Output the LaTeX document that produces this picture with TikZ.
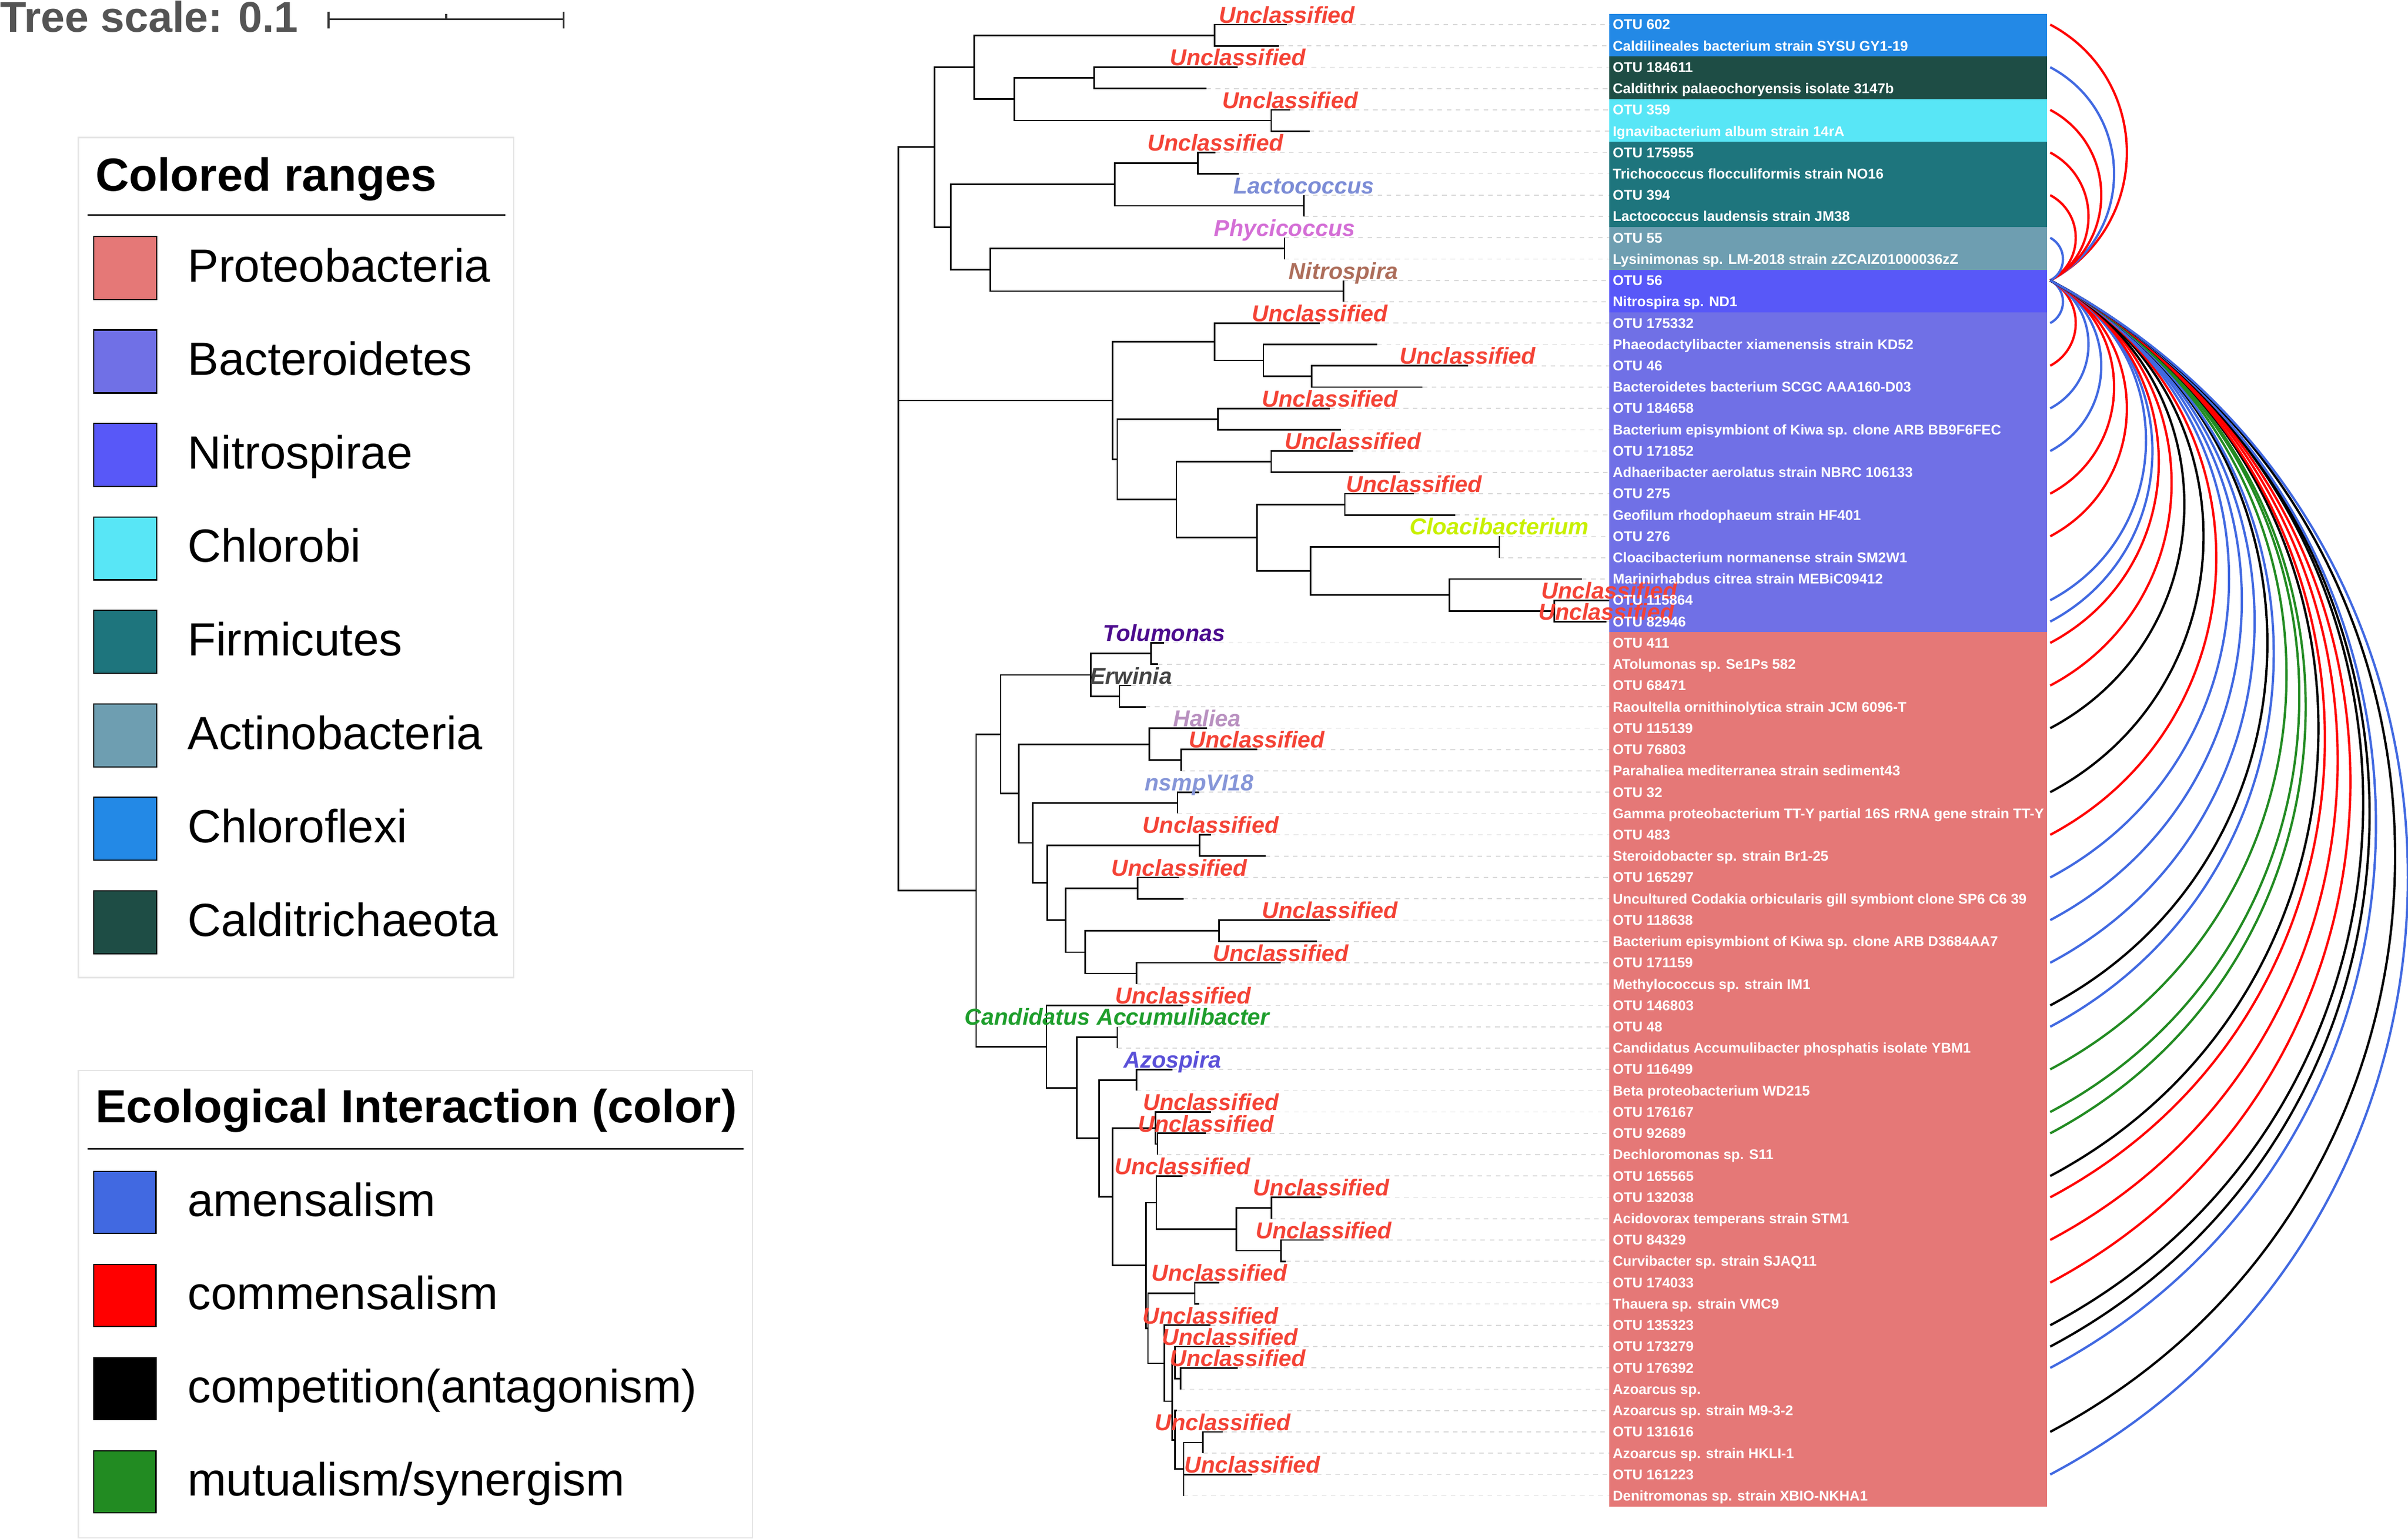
\documentclass[tikz,border=0pt]{standalone}
\usepackage{fontspec}
\setmainfont{Liberation Sans}
\usetikzlibrary{calc}
\usepackage{xcolor}

% colored ranges
\definecolor{prot}{HTML}{E57877}
\definecolor{bact}{HTML}{7070E6}
\definecolor{nitr}{HTML}{5858F8}
\definecolor{chlb}{HTML}{58E6F6}
\definecolor{firm}{HTML}{1E757D}
\definecolor{actn}{HTML}{6E9EB1}
\definecolor{chlf}{HTML}{2389E6}
\definecolor{cald}{HTML}{1E4D45}
% interactions
\definecolor{amen}{HTML}{4169E1}
\definecolor{comm}{HTML}{FF0000}
\definecolor{comp}{HTML}{000000}
\definecolor{mutu}{HTML}{228B22}
% genus labels
\definecolor{unc}{HTML}{F44336}
\definecolor{lacto}{HTML}{7B8CD6}
\definecolor{phyci}{HTML}{D46FD6}
\definecolor{nitro}{HTML}{AD6E5B}
\definecolor{cloac}{HTML}{C8F000}
\definecolor{tolum}{HTML}{4C0A8E}
\definecolor{erwin}{HTML}{444444}
\definecolor{halie}{HTML}{B991C0}
\definecolor{nsmp}{HTML}{8696D8}
\definecolor{candi}{HTML}{1E9E2C}
\definecolor{azosp}{HTML}{5A50D8}

\begin{document}
\begin{tikzpicture}[x=1pt,y=-1pt,
    branch/.style={line width=1pt},
    leader/.style={draw=black!15, line width=0.6pt, dash pattern=on 3pt off 3pt},
    link/.style={line width=1.5pt, looseness=1.16},
    tlab/.style={font=\fontsize{15}{18}\selectfont\bfseries\itshape, anchor=base, inner sep=0pt, yshift=1pt},
    otu/.style={font=\fontsize{9.2}{11}\selectfont\bfseries, text=white, anchor=base west, inner sep=0pt},
    legsq/.style={draw=black, line width=0.8pt},
    legtxt/.style={font=\fontsize{30.3}{36}\selectfont, anchor=base west, inner sep=0pt},
    legtitle/.style={font=\fontsize{30.3}{36}\selectfont\bfseries, anchor=base west, inner sep=0pt}]
      \useasboundingbox (0,0) rectangle (1568,1002.1);

      % Colored ranges
      \foreach \c/\a/\b in {chlf/1/2, cald/3/4, chlb/5/6, firm/7/10, actn/11/12, nitr/13/14, bact/15/29, prot/30/70}
        \fill[\c] (1048,{16+(\a-1.5)*13.884}) rectangle (1333,{16+(\b-0.5)*13.884});

      % Leaf tips
      \foreach \k/\x in {1/838, 2/833, 3/806, 4/785.6, 5/840, 6/852.8, 7/791.4, 8/806.7, 9/849, 10/849,
          11/836.5, 12/836.5, 13/874.8, 14/874.8, 15/859.4, 16/896.8, 17/955.8, 18/926.3, 19/866, 20/873,
          21/881, 22/911.8, 23/920.9, 24/947.7, 25/976.3, 26/976.3, 27/1030, 28/1048, 29/1046, 30/758,
          31/754, 32/736.5, 33/746, 34/786, 35/818.5, 36/769, 37/781, 38/766.7, 39/788.4, 40/824,
          41/768, 42/770.6, 43/866, 44/857.6, 45/834, 46/740, 47/770.5, 48/727.5, 49/727.5, 50/763.5,
          51/740, 52/788.5, 53/785.2, 54/753.7, 55/770, 56/860.3, 57/828, 58/862, 59/837.3, 60/794,
          61/781, 62/788.3, 63/801, 64/806, 65/768.6, 66/766.5, 67/796.1, 68/783.2, 69/815.5, 70/770.7}
      {
        \coordinate (L\k) at (\x,{16+(\k-1)*13.884});
        \coordinate (B\k) at (1048,{16+(\k-1)*13.884});
        \coordinate (E\k) at (1335,{16+(\k-1)*13.884});
      }
      \coordinate (hub) at (E13);

      % Inner nodes
      \foreach \n/\x/\r in {a1/791/1.5, a2/712.5/3.5, a3/827.8/5.5, a4/660.6/4.5, a5/634.4/3,
          a6/780/7.5, a7/849/9.5, a8/726/8.5, a9/836.5/11.5, a10/874.8/13.5, a11/645/12.5,
          a12/619/10.5, A/608.5/6.75,
          b1/854/17.5, b2/822.7/16.75, b3/791/15.875, b4/793/19.5, b5/827.8/21.5, b6/875.7/23.5,
          b7/976.3/25.5, b8/1012/28.5, b9/943.8/27.75, b10/853.4/26.625, b11/818.5/25.0625,
          b12/766/23.28125, b13/727.5/21.390625, B/724.5/18.6328,
          p1/749.5/30.5, p2/729/32.5, p3/710.3/31.5, p4/769/35.5, p5/748.3/34.75, p6/766.7/37.5,
          p7/781/39.5, p8/740.8/41.5, p9/793.8/43.5, p10/740/45.5, p11/706.7/44.5, p12/694/43,
          p13/682/41.25, p14/672.4/39.375, p15/663.4/37.0625, p16/651.6/34.28125,
          q1/701.3/50.868, q2/727.5/48.5, q3/715.6/53.2363, q4/740/50.5, q5/724.3/55.9727,
          q6/752.5/52.75, q7/746.2/59.1953, q8/753.7/53.5, q9/752.9/56.25, q10/747.5/62.1406,
          q11/778/60.5, q12/758.3/63.7813, q13/805/57.5, q14/828/56.5, q15/763.4/65.5625,
          q16/765/63.75, q17/765.2/67.375, q18/770.7/68.75, q19/783.2/67.5, q20/834/58.5,
          q21/768.6/64.5, Q/681.4/48.934, P/635.6/41.6077, root/585/18.6328}
        \coordinate (\n) at (\x,{16+(\r-1)*13.884});

      % Leaders
      \foreach \k in {1,...,70}
        \draw[leader] (L\k) -- (B\k);

      % Tree
      \foreach \p/\c in {root/A, root/B, root/P, A/a5, A/a12,
          a5/a1, a5/a4, a1/L1, a1/L2, a4/a2, a4/a3, a2/L3, a2/L4, a3/L5, a3/L6,
          a12/a8, a12/a11, a8/a6, a8/a7, a6/L7, a6/L8, a7/L9, a7/L10,
          a11/a9, a11/a10, a9/L11, a9/L12, a10/L13, a10/L14,
          B/b3, B/b13, b3/L15, b3/b2, b2/L16, b2/b1, b1/L17, b1/L18,
          b13/b4, b13/b12, b4/L19, b4/L20, b12/b5, b12/b11, b5/L21, b5/L22,
          b11/b6, b11/b10, b6/L23, b6/L24, b10/b7, b10/b9, b7/L25, b7/L26,
          b9/L27, b9/b8, b8/L28, b8/L29,
          P/p16, P/Q, p16/p3, p16/p15, p3/p1, p3/p2, p1/L30, p1/L31, p2/L32, p2/L33,
          p15/p5, p15/p14, p5/L34, p5/p4, p4/L35, p4/L36,
          p14/p6, p14/p13, p6/L37, p6/L38, p13/p7, p13/p12, p7/L39, p7/L40,
          p12/p8, p12/p11, p8/L41, p8/L42, p11/p9, p11/p10, p9/L43, p9/L44, p10/L45, p10/L46,
          Q/L47, Q/q1, q1/q2, q1/q3, q2/L48, q2/L49, q3/q4, q3/q5, q4/L50, q4/L51,
          q5/q6, q5/q7, q6/L52, q6/q8, q8/L53, q8/L54,
          q7/q9, q7/q10, q9/L55, q9/q13, q13/q14, q13/q20, q14/L56, q14/L57, q20/L58, q20/L59,
          q10/q11, q10/q12, q11/L60, q11/L61, q12/L62, q12/q15, q15/q16, q15/q17,
          q16/L63, q16/q21, q21/L64, q21/L65, q17/L66, q17/q18,
          q18/q19, q18/L69, q18/L70, q19/L67, q19/L68}
        \draw[branch] (\p) |- (\c);

      % Genus labels
      \foreach \k/\t/\c in {1/Unclassified/unc, 3/Unclassified/unc, 5/Unclassified/unc, 7/Unclassified/unc,
          9/Lactococcus/lacto, 11/Phycicoccus/phyci, 13/Nitrospira/nitro,
          15/Unclassified/unc, 17/Unclassified/unc, 19/Unclassified/unc, 21/Unclassified/unc,
          23/Unclassified/unc, 25/Cloacibacterium/cloac, 28/Unclassified/unc, 29/Unclassified/unc,
          30/Tolumonas/tolum, 32/Erwinia/erwin, 34/Haliea/halie, 35/Unclassified/unc,
          37/nsmpVI18/nsmp, 39/Unclassified/unc, 41/Unclassified/unc, 43/Unclassified/unc,
          45/Unclassified/unc, 47/Unclassified/unc, 48/Candidatus Accumulibacter/candi,
          50/Azospira/azosp, 52/Unclassified/unc, 53/Unclassified/unc, 55/Unclassified/unc,
          56/Unclassified/unc, 58/Unclassified/unc, 60/Unclassified/unc, 62/Unclassified/unc,
          63/Unclassified/unc, 64/Unclassified/unc, 67/Unclassified/unc, 69/Unclassified/unc}
        \node[tlab, text=\c] (G\k) at (L\k) {\t};

      % Leaf names
      \foreach \k/\t in {1/OTU 602, 2/Caldilineales bacterium strain SYSU GY1-19, 3/OTU 184611,
          4/Caldithrix palaeochoryensis isolate 3147b, 5/OTU 359, 6/Ignavibacterium album strain 14rA,
          7/OTU 175955, 8/Trichococcus flocculiformis strain NO16, 9/OTU 394,
          10/Lactococcus laudensis strain JM38, 11/OTU 55,
          12/Lysinimonas sp. LM-2018 strain zZCAIZ01000036zZ, 13/OTU 56, 14/Nitrospira sp. ND1,
          15/OTU 175332, 16/Phaeodactylibacter xiamenensis strain KD52, 17/OTU 46,
          18/Bacteroidetes bacterium SCGC AAA160-D03, 19/OTU 184658,
          20/Bacterium episymbiont of Kiwa sp. clone ARB BB9F6FEC, 21/OTU 171852,
          22/Adhaeribacter aerolatus strain NBRC 106133, 23/OTU 275, 24/Geofilum rhodophaeum strain HF401,
          25/OTU 276, 26/Cloacibacterium normanense strain SM2W1, 27/Marinirhabdus citrea strain MEBiC09412,
          28/OTU 115864, 29/OTU 82946, 30/OTU 411, 31/ATolumonas sp. Se1Ps 582, 32/OTU 68471,
          33/Raoultella ornithinolytica strain JCM 6096-T, 34/OTU 115139, 35/OTU 76803,
          36/Parahaliea mediterranea strain sediment43, 37/OTU 32,
          38/Gamma proteobacterium TT-Y partial 16S rRNA gene strain TT-Y, 39/OTU 483,
          40/Steroidobacter sp. strain Br1-25, 41/OTU 165297,
          42/Uncultured Codakia orbicularis gill symbiont clone SP6 C6 39, 43/OTU 118638,
          44/Bacterium episymbiont of Kiwa sp. clone ARB D3684AA7, 45/OTU 171159,
          46/Methylococcus sp. strain IM1, 47/OTU 146803, 48/OTU 48,
          49/Candidatus Accumulibacter phosphatis isolate YBM1, 50/OTU 116499,
          51/Beta proteobacterium WD215, 52/OTU 176167, 53/OTU 92689, 54/Dechloromonas sp. S11,
          55/OTU 165565, 56/OTU 132038, 57/Acidovorax temperans strain STM1, 58/OTU 84329,
          59/Curvibacter sp. strain SJAQ11, 60/OTU 174033, 61/Thauera sp. strain VMC9,
          62/OTU 135323, 63/OTU 173279, 64/OTU 176392, 65/Azoarcus sp., 66/Azoarcus sp. strain M9-3-2,
          67/OTU 131616, 68/Azoarcus sp. strain HKLI-1, 69/OTU 161223,
          70/Denitromonas sp. strain XBIO-NKHA1}
        \node[otu] (T\k) at ($(B\k)+(2,3.2)$) {\t};

      % Interactions
      \foreach \k/\c in {1/comm, 3/amen, 5/comm, 7/comm, 9/comm, 11/amen}
        \draw[link, draw=\c] (hub) to[out=28, in=-28] (E\k);
      \foreach \k/\c in {15/amen, 17/comm, 19/amen, 21/amen, 23/comm, 25/comm, 28/amen, 29/amen,
          30/comm, 32/comm, 34/comp, 37/comp, 39/comm, 41/amen, 43/amen, 45/amen, 47/comp, 48/amen,
          50/mutu, 52/mutu, 53/mutu, 55/comp, 56/comm, 58/comm, 60/comm, 62/comp, 63/comp,
          64/amen, 67/comp, 69/amen}
        \draw[link, draw=\c] (hub) to[out=-28, in=28] (E\k);

      % Tree scale
      \node[font=\fontsize{28}{32}\selectfont\bfseries, text=black!67, anchor=base west, inner sep=0pt]
        (scale) at (0,20.8) {Tree scale: 0.1};
      \coordinate (s0) at (214,12.5);
      \coordinate (s1) at (367,12.5);
      \draw[line width=1.3pt, black!80] (s0) -- (s1);
      \draw[line width=1.3pt, black!80] ($(s0)+(0,-5)$) -- ($(s0)+(0,6)$);
      \draw[line width=1.3pt, black!80] ($(s1)+(0,-5)$) -- ($(s1)+(0,6)$);
      \draw[line width=1.3pt, black!80] ($(s0)!0.5!(s1)+(0,-3.5)$) -- ($(s0)!0.5!(s1)$);

      % Legend: colored ranges
      \draw[black!10, line width=0.8pt] (51,89.5) rectangle (334.5,636.5);
      \node[legtitle] (rangetitle) at (62,124.3) {Colored ranges};
      \draw[line width=1.2pt, black!85] (57,140) -- (329,140);
      \foreach \t/\c [count=\i from 0] in {Proteobacteria/prot, Bacteroidetes/bact, Nitrospirae/nitr,
          Chlorobi/chlb, Firmicutes/firm, Actinobacteria/actn, Chloroflexi/chlf, Calditrichaeota/cald}
      {
        \draw[legsq, fill=\c] (61,{154+\i*60.86}) rectangle (102,{195+\i*60.86});
        \node[legtxt] (range\i) at (122,{183.5+\i*60.86}) {\t};
      }

      % Legend: interactions
      \draw[black!10, line width=0.8pt] (51,697) rectangle (490,1001.5);
      \node[legtitle] (inttitle) at (62,731) {Ecological Interaction (color)};
      \draw[line width=1.2pt, black!85] (57,748) -- (484,748);
      \foreach \t/\c [count=\i from 0] in {amensalism/amen, commensalism/comm,
          competition(antagonism)/comp, mutualism\slash synergism/mutu}
      {
        \draw[legsq, fill=\c] (61,{762.6+\i*60.7}) rectangle (101.5,{803+\i*60.7});
        \node[legtxt] (int\i) at (122,{792+\i*60.7}) {\t};
      }
  \end{tikzpicture}
\end{document}
